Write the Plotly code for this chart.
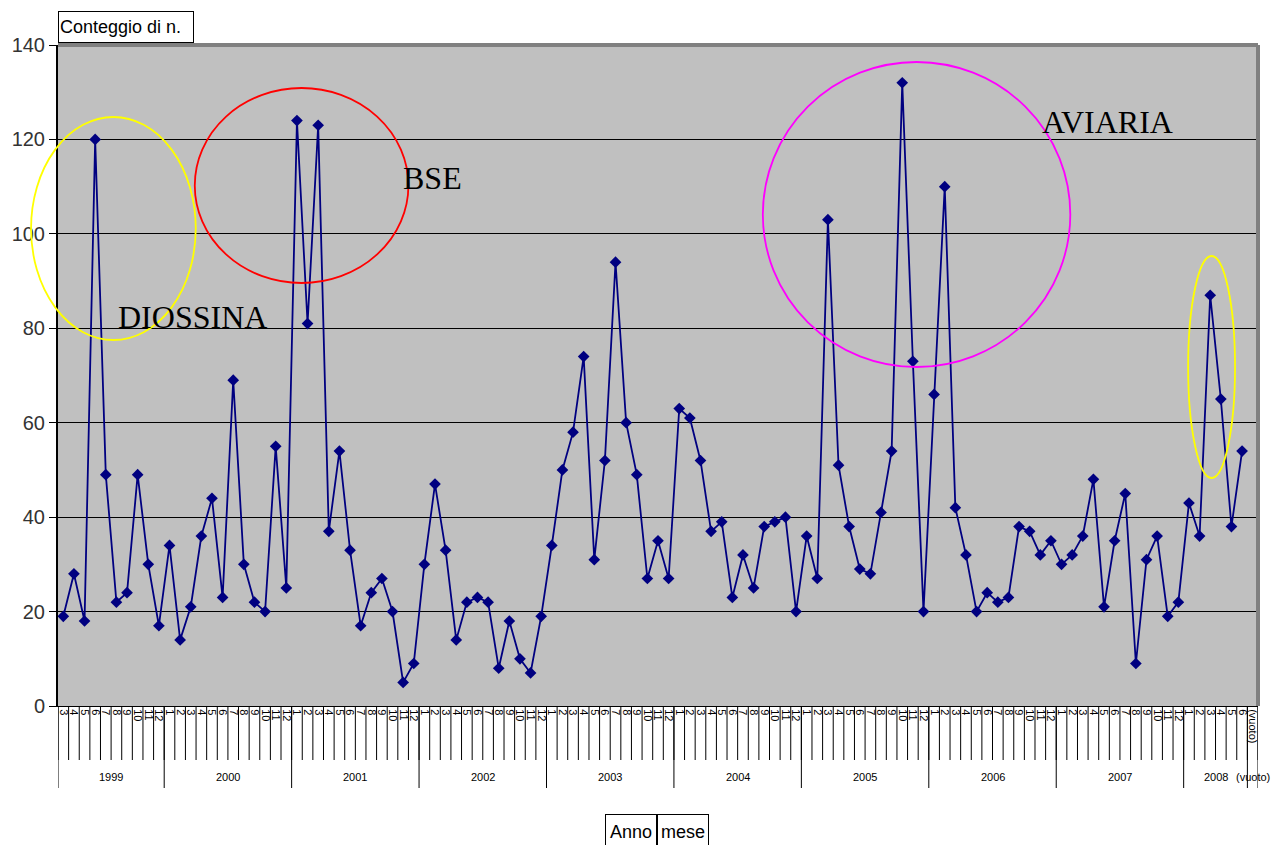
import plotly.graph_objects as go

# Monthly counts, March 1999 - June 2008
years = [1999, 2000, 2001, 2002, 2003, 2004, 2005, 2006, 2007, 2008]
months_by_year = {
    1999: list(range(3, 13)),
    2000: list(range(1, 13)),
    2001: list(range(1, 13)),
    2002: list(range(1, 13)),
    2003: list(range(1, 13)),
    2004: list(range(1, 13)),
    2005: list(range(1, 13)),
    2006: list(range(1, 13)),
    2007: list(range(1, 13)),
    2008: list(range(1, 7)),
}
counts_1999 = [19, 28, 18, 120, 49, 22, 24, 49, 30, 17]
counts_2000 = [34, 14, 21, 36, 44, 23, 69, 30, 22, 20, 55, 25]
counts_2001 = [124, 81, 123, 37, 54, 33, 17, 24, 27, 20, 5, 9]
counts_2002 = [30, 47, 33, 14, 22, 23, 22, 8, 18, 10, 7, 19]
counts_2003 = [34, 50, 58, 74, 31, 52, 94, 60, 49, 27, 35, 27]
counts_2004 = [63, 61, 52, 37, 39, 23, 32, 25, 38, 39, 40, 20]
counts_2005 = [36, 27, 103, 51, 38, 29, 28, 41, 54, 132, 73, 20]
counts_2006 = [66, 110, 42, 32, 20, 24, 22, 23, 38, 37, 32, 35]
counts_2007 = [30, 32, 36, 48, 21, 35, 45, 9, 31, 36, 19, 22]
counts_2008 = [43, 36, 87, 65, 38, 54]
empty_label = "(vuoto)"
y_ticks = [0, 20, 40, 60, 80, 100, 120, 140]

counts = (counts_1999 + counts_2000 + counts_2001 + counts_2002 + counts_2003 +
          counts_2004 + counts_2005 + counts_2006 + counts_2007 + counts_2008)

month_labels = []
year_spans = []
for yr in years:
    start = len(month_labels)
    month_labels += [str(m) for m in months_by_year[yr]]
    year_spans.append((yr, start, len(month_labels) - 1))
month_labels.append(empty_label)
n_cat = len(month_labels)
x_idx = list(range(len(counts)))

# Figure geometry (pixels)
W, H = 1279, 845
L, R, T, B = 56, 21, 45, 139
PW, PH = W - L - R, H - T - B


def fx(px):
    return (px - L) / PW


def fy(py):
    return (H - B - py) / PH


fig = go.Figure()
fig.add_trace(go.Scatter(
    x=x_idx, y=counts, mode="lines+markers",
    line=dict(color="#000080", width=1.8),
    marker=dict(symbol="diamond", size=9, color="#000080"),
    hoverinfo="x+y", showlegend=False,
))

shapes = []
# category dividers below the axis
for i in range(n_cat + 1):
    shapes.append(dict(type="line", xref="x", yref="paper",
                       x0=i - 0.5, x1=i - 0.5, y0=0, y1=fy(760),
                       line=dict(color="black", width=1)))
# year dividers
bounds = [-0.5] + [end + 0.5 for _, _, end in year_spans] + [n_cat - 0.5]
for b in bounds:
    shapes.append(dict(type="line", xref="x", yref="paper",
                       x0=b, x1=b, y0=0, y1=fy(788),
                       line=dict(color="black", width=1)))
# plot frame: dark top/right edge
shapes.append(dict(type="line", xref="paper", yref="paper", x0=0, x1=1, y0=1, y1=1,
                   line=dict(color="#808080", width=4)))
shapes.append(dict(type="line", xref="paper", yref="paper", x0=1, x1=1, y0=0, y1=1,
                   line=dict(color="#808080", width=4)))
# highlighted periods
ellipses = [
    ((29, 117, 194, 340), "#FFFF00"),
    ((193, 88, 407, 283), "#FF0000"),
    ((762, 62, 1070, 367), "#FF00FF"),
    ((1188, 256, 1235, 478), "#FFFF00"),
]
for (x0, y0, x1, y1), col in ellipses:
    shapes.append(dict(type="circle", xref="paper", yref="paper",
                       x0=fx(x0), x1=fx(x1), y0=fy(y1), y1=fy(y0),
                       line=dict(color=col, width=1.8)))

annotations = []
for yr, s, e in year_spans:
    annotations.append(dict(x=(s + e) / 2, y=fy(777), xref="x", yref="paper",
                            xanchor="center", yanchor="middle",
                            text=str(yr), showarrow=False,
                            font=dict(family="Liberation Sans", size=11, color="black")))
annotations.append(dict(x=n_cat - 1, y=fy(777), xref="x", yref="paper",
                        xanchor="center", yanchor="middle",
                        text=empty_label, showarrow=False,
                        font=dict(family="Liberation Sans", size=11, color="black")))

serif = dict(family="Liberation Serif", size=32, color="black")
for txt, cx, cy in [("DIOSSINA", 191, 317), ("BSE", 431, 178), ("AVIARIA", 1107, 122)]:
    annotations.append(dict(x=fx(cx), y=fy(cy), xref="paper", yref="paper",
                            xanchor="center", yanchor="middle",
                            text=txt, showarrow=False, font=serif))

# field buttons
annotations.append(dict(x=fx(56), y=fy(43), xref="paper", yref="paper",
                        xanchor="left", yanchor="bottom", align="left",
                        text="Conteggio di n.", showarrow=False,
                        width=132, height=28, borderpad=1,
                        bordercolor="black", borderwidth=1, bgcolor="white",
                        font=dict(family="Liberation Sans", size=18, color="black")))
for txt, x0 in [("Anno", 604), ("mese", 656)]:
    annotations.append(dict(x=fx(x0), y=fy(814), xref="paper", yref="paper",
                            xanchor="left", yanchor="top",
                            text=txt, showarrow=False,
                            width=48, height=32, borderpad=1,
                            bordercolor="black", borderwidth=1, bgcolor="white",
                            font=dict(family="Liberation Sans", size=18, color="black")))

fig.update_layout(
    width=W, height=H,
    margin=dict(l=L, r=R, t=T, b=B, pad=0),
    paper_bgcolor="white", plot_bgcolor="#C0C0C0",
    xaxis=dict(range=[-0.5, n_cat - 0.5], tickmode="array",
               tickvals=list(range(n_cat)), ticktext=month_labels,
               tickangle=90, ticks="", showgrid=False, zeroline=False,
               showline=True, linecolor="black", linewidth=1,
               tickfont=dict(family="Liberation Sans", size=11, color="black")),
    yaxis=dict(range=[0, 140], tickmode="array", tickvals=y_ticks,
               ticks="outside", ticklen=7, tickcolor="black", tickwidth=1,
               showgrid=True, gridcolor="black", gridwidth=1, zeroline=False,
               showline=True, linecolor="black", linewidth=2,
               tickfont=dict(family="Liberation Sans", size=20, color="#333333")),
    shapes=shapes, annotations=annotations,
    hovermode="closest",
)

fig.write_html("out.html")
